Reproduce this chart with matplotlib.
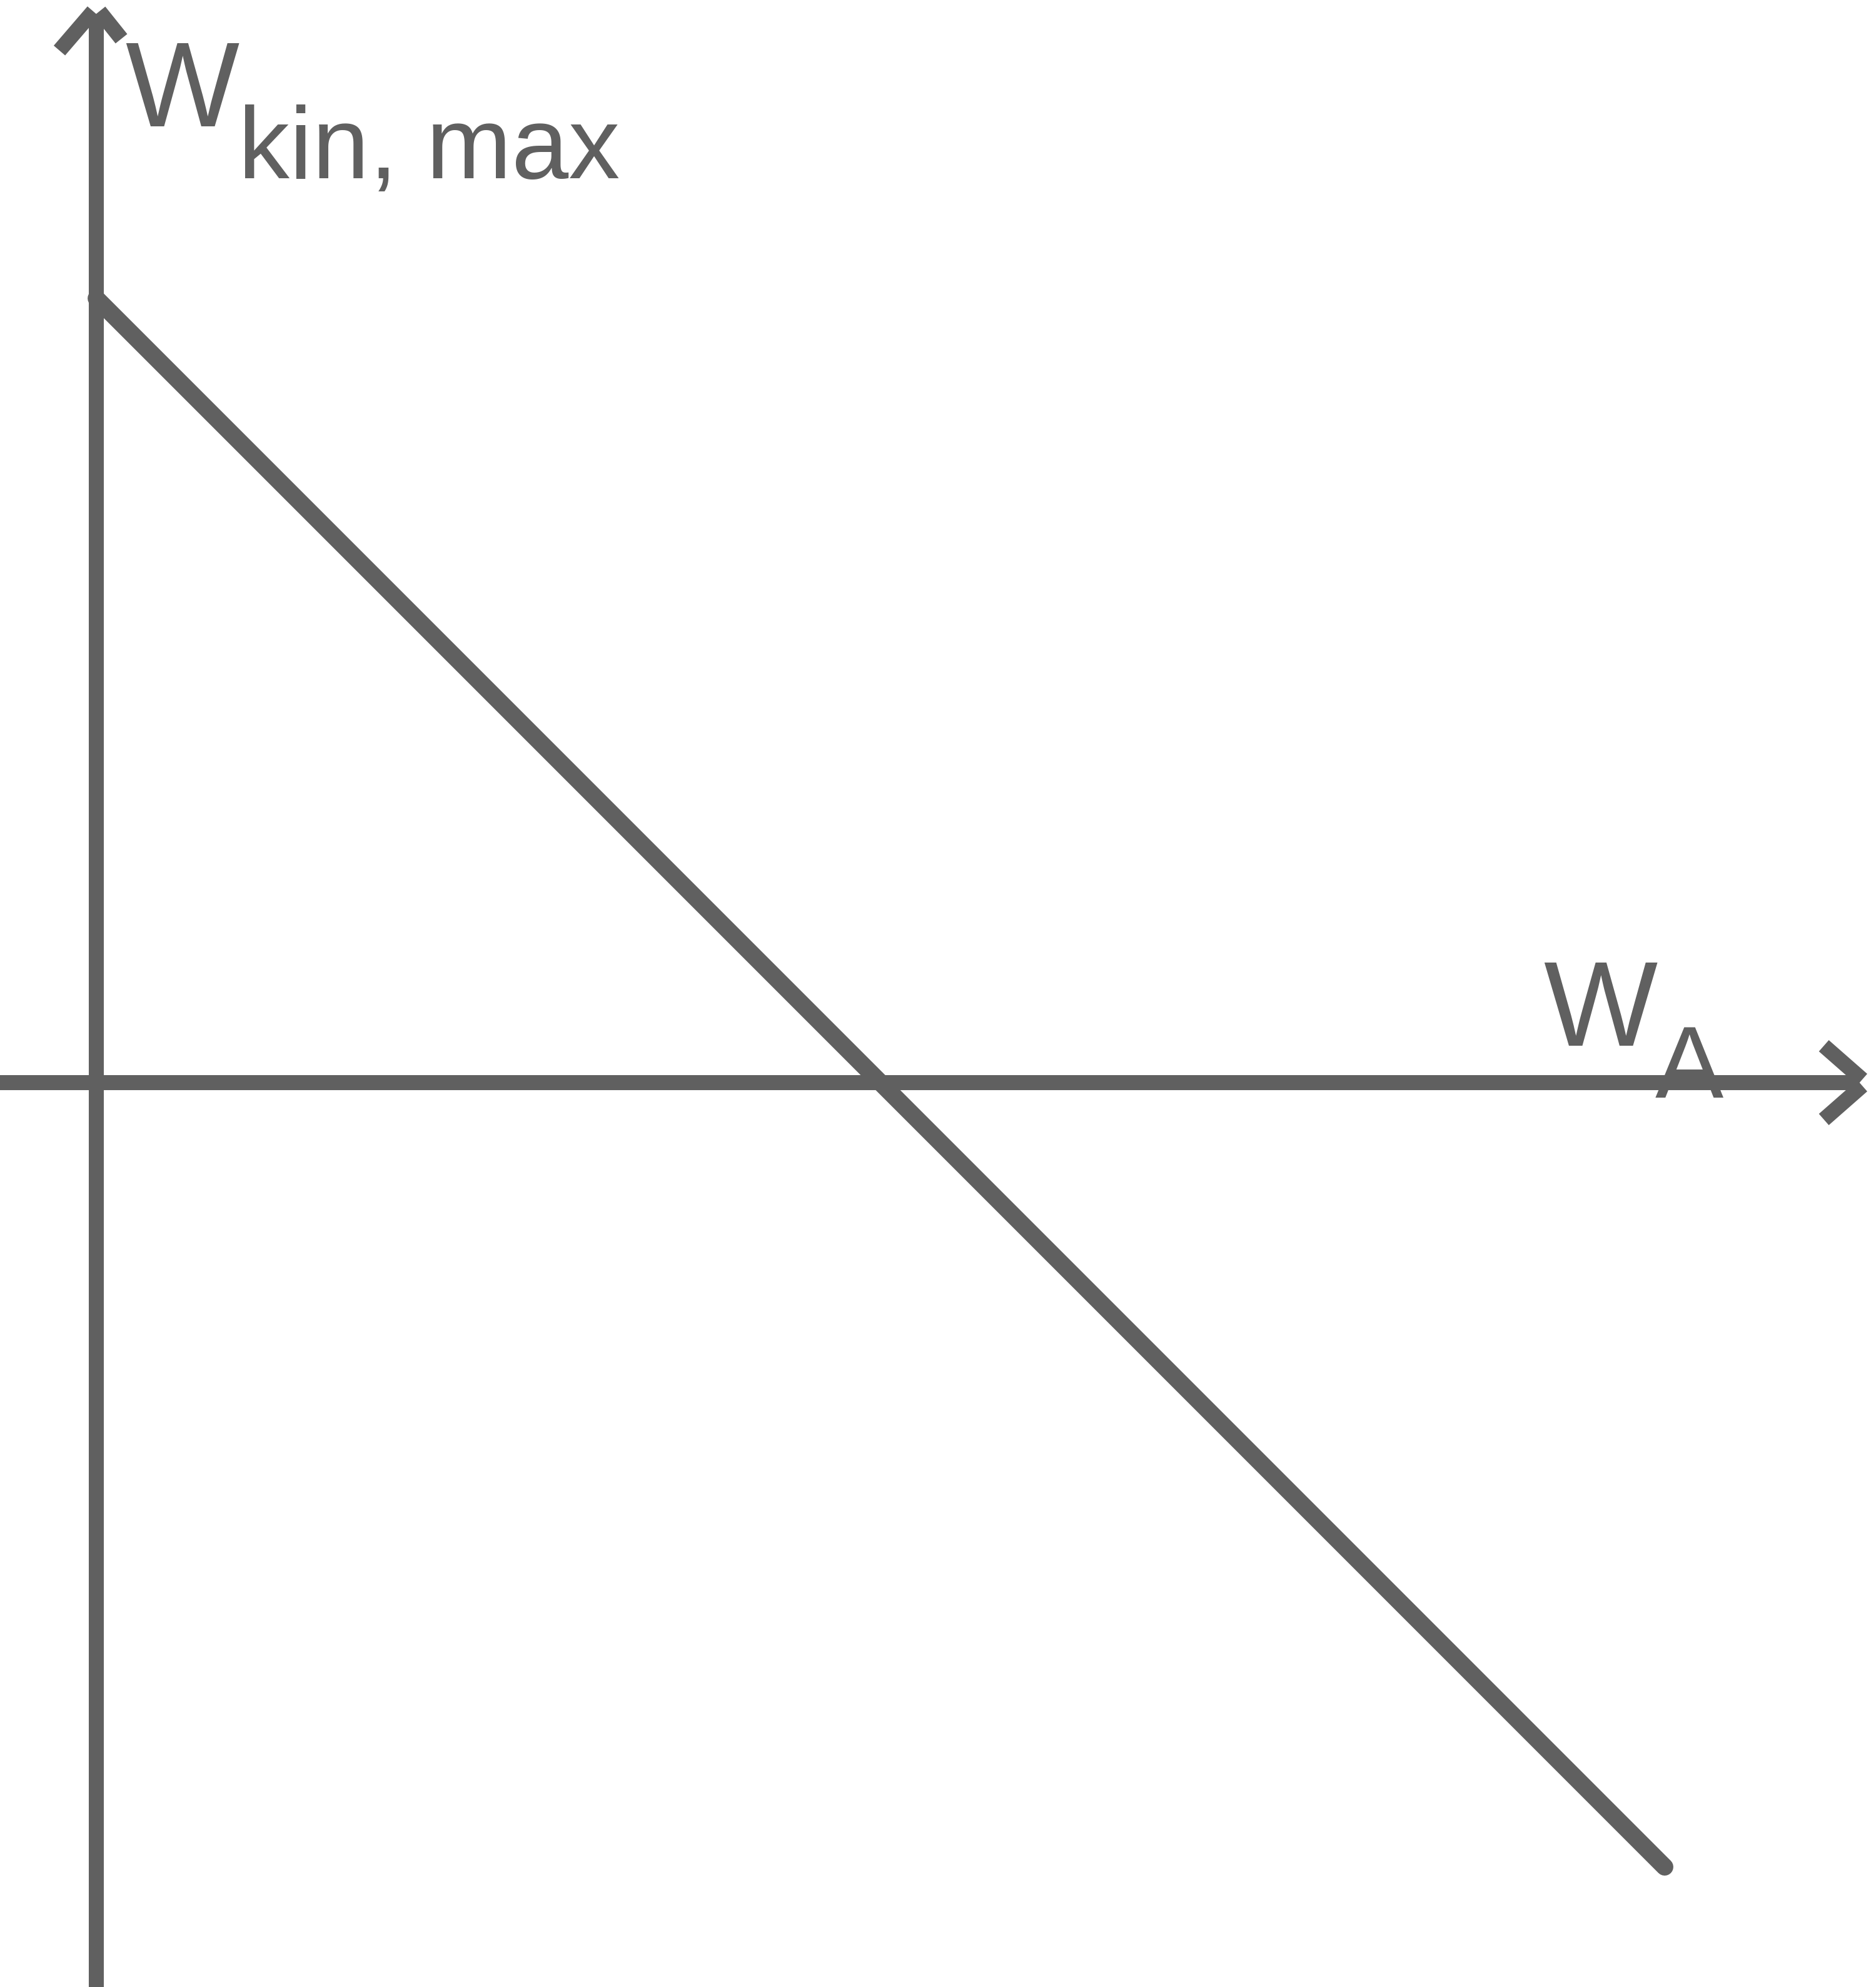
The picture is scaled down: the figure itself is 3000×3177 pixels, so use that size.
import matplotlib.pyplot as plt

# data in units of the photon energy h*f
wa = [0.0, 2.0]
wkin = [1.0, -1.0]
x_label_main = 'W'
x_label_sub = 'A'
y_label_main = 'W'
y_label_sub = 'kin, max'

col = '#606060'
lw = 17.3
plt.rcParams['font.family'] = ['Liberation Sans', 'DejaVu Sans']

fig = plt.figure(figsize=(30, 31.77), dpi=100)
ax = fig.add_axes([0, 0, 1, 1])
ax.set_xlim(-0.1228, 2.2695)
ax.set_ylim(-1.1531, 1.3804)
ax.axis('off')

# axes with arrow heads (each arm its own segment, butt ends)
x_tip = 2.252
y_tip = 1.366
ax.plot([-0.1228, x_tip - 0.008], [0, 0], color=col, lw=lw, solid_capstyle='butt')
ax.plot([x_tip - 0.049, x_tip], [0.047, 0.004], color=col, lw=lw, solid_capstyle='butt')
ax.plot([x_tip - 0.049, x_tip], [-0.047, -0.004], color=col, lw=lw, solid_capstyle='butt')
ax.plot([0, 0], [-1.1531, y_tip - 0.004], color=col, lw=lw, solid_capstyle='butt')
ax.plot([-0.047, -0.004], [y_tip - 0.050, y_tip], color=col, lw=lw, solid_capstyle='butt')
ax.plot([0.032, 0.004], [y_tip - 0.035, y_tip], color=col, lw=lw, solid_capstyle='butt')

# the line
ax.plot(wa, wkin, color=col, lw=20, solid_capstyle='round')

# labels
ax.text(0.037, 1.219, y_label_main, fontsize=139, color=col, ha='left', va='baseline')
ax.text(0.181, 1.153, y_label_sub, fontsize=118, color=col, ha='left', va='baseline')
ax.text(1.845, 0.047, x_label_main, fontsize=139, color=col, ha='left', va='baseline')
ax.text(1.988, -0.019, x_label_sub, fontsize=118, color=col, ha='left', va='baseline')

fig.savefig('out.png', dpi=100, facecolor='white')
